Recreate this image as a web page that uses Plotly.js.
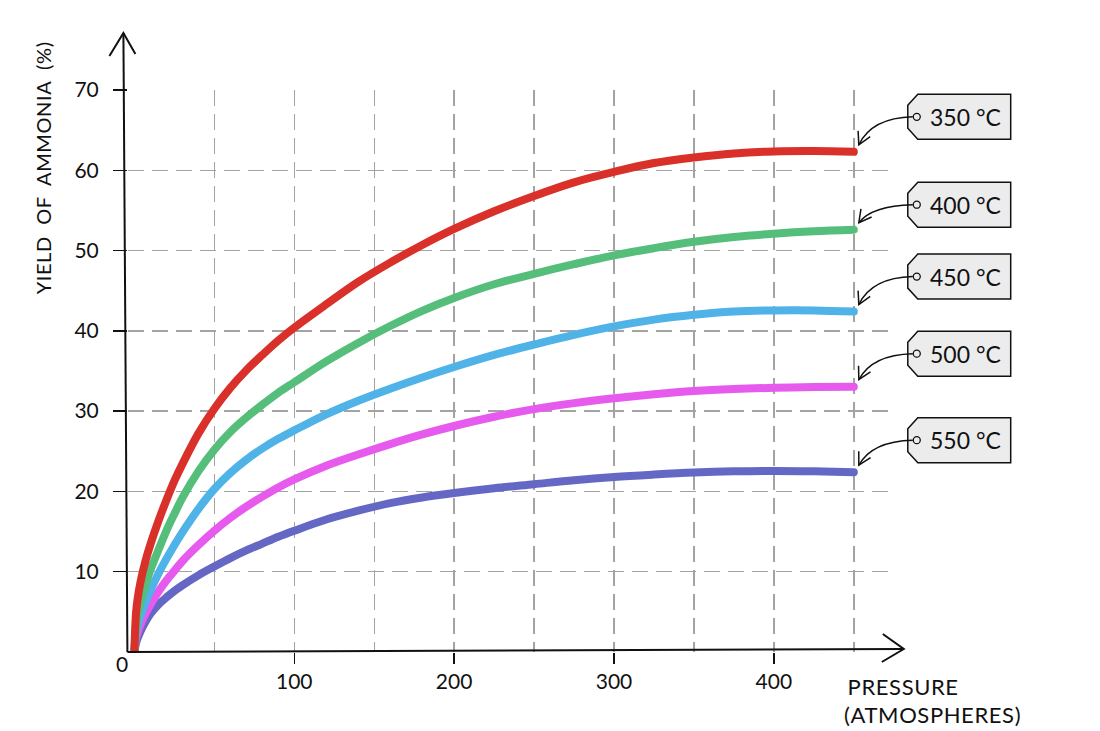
<!DOCTYPE html>
<html>
<head>
<meta charset="utf-8">
<script src="https://cdn.plot.ly/plotly-3.0.1.min.js"></script>
<style>
  html, body { margin: 0; padding: 0; background: #fff; }
  #chart { width: 1100px; height: 731px; }
  path.js-line { stroke-linecap: round !important; stroke-linejoin: round !important; }
  g.annotation[data-index="5"] text, g.annotation[data-index="6"] text, g.annotation[data-index="7"] text { letter-spacing: 0.6px; }
</style>
</head>
<body>
<div id="chart"></div>
<script>
// ---------------- DATA ----------------
const pressure = [0, 1, 2, 4, 7, 10, 15, 20, 25, 30, 40, 50, 60, 70, 80, 90, 100, 120, 140, 160, 180, 200, 225, 250, 275, 300, 325, 350, 375, 400, 425, 450];
const yield350 = [0, 4.8, 6.6, 8.9, 11.4, 13.4, 16.3, 18.9, 21.3, 23.4, 27.2, 30.3, 32.9, 35.1, 37.0, 38.8, 40.4, 43.3, 46.1, 48.5, 50.7, 52.7, 54.9, 56.8, 58.5, 59.8, 60.9, 61.6, 62.1, 62.35, 62.4, 62.3];
const yield400 = [0, 3.3, 4.6, 6.4, 8.4, 10.2, 12.7, 15.1, 17.2, 19.2, 22.5, 25.2, 27.4, 29.2, 30.8, 32.3, 33.6, 36.2, 38.5, 40.6, 42.5, 44.1, 45.8, 47.1, 48.3, 49.4, 50.3, 51.1, 51.7, 52.1, 52.4, 52.6];
const yield450 = [0, 2.3, 3.25, 4.6, 6.25, 7.65, 9.75, 11.6, 13.3, 14.9, 17.8, 20.3, 22.3, 23.95, 25.35, 26.55, 27.6, 29.6, 31.3, 32.8, 34.2, 35.5, 37.0, 38.3, 39.5, 40.55, 41.4, 42.0, 42.4, 42.55, 42.55, 42.4];
const yield500 = [0, 1.7, 2.4, 3.5, 4.8, 5.9, 7.5, 8.9, 10.1, 11.3, 13.3, 15.1, 16.7, 18.1, 19.35, 20.5, 21.5, 23.2, 24.6, 25.9, 27.1, 28.15, 29.3, 30.25, 31.0, 31.6, 32.1, 32.5, 32.75, 32.9, 33.0, 33.05];
const yield550 = [0, 1.1, 1.7, 2.65, 3.8, 4.75, 5.9, 6.8, 7.6, 8.3, 9.55, 10.65, 11.7, 12.65, 13.5, 14.35, 15.1, 16.5, 17.6, 18.55, 19.25, 19.8, 20.4, 20.9, 21.4, 21.8, 22.1, 22.35, 22.5, 22.55, 22.5, 22.4];
const temperatures = ["350 °C", "400 °C", "450 °C", "500 °C", "550 °C"];
const yTickVals = [10, 20, 30, 40, 50, 60, 70];
const xTickVals = [100, 200, 300, 400];
const xMinorVals = [50, 150, 250, 350, 450];
const yAxisTitle = "YIELD&nbsp; OF&nbsp; AMMONIA&nbsp; (%)";
const xAxisTitle1 = "PRESSURE";
const xAxisTitle2 = "(ATMOSPHERES)";

// ---------------- STYLE / LAYOUT ----------------
const seriesY = [yield350, yield400, yield450, yield500, yield550];
const colors = ["#d9302a", "#55be7a", "#4fb3e8", "#e65aee", "#6468c4"];
const FONT = "Lato, 'Open Sans', sans-serif";
const W = 1100, H = 731;
const xRange = [-4, 472], yRange = [0, 70];
const L = 127.6, T = 90, PW = 761.6, PH = 562;
const tagOffsetPx = [-35, -25, -35, -33, -32];

function px2p(px, py) { return [(px - L) / PW, (T + PH - py) / PH]; }
function dataX2px(x) { return L + (x - xRange[0]) / (xRange[1] - xRange[0]) * PW; }
function dataY2px(y) { return T + PH - (y - yRange[0]) / (yRange[1] - yRange[0]) * PH; }
function pathPx(cmds) {
  return cmds.map(c => {
    let s = c[0];
    for (let i = 1; i < c.length; i += 2) {
      const p = px2p(c[i], c[i + 1]);
      s += " " + p[0].toFixed(5) + "," + p[1].toFixed(5);
    }
    return s;
  }).join(" ");
}

const traces = [];
for (let i = seriesY.length - 1; i >= 0; i--) {
  traces.push({
    x: pressure, y: seriesY[i], type: "scatter", mode: "lines",
    line: { color: colors[i], width: 8, shape: "spline", smoothing: 1 },
    hoverinfo: "skip", showlegend: false, cliponaxis: false
  });
}

const shapes = [];
const annotations = [];
const black = "#111";

// axes with arrowheads
shapes.push({ type: "path", xref: "paper", yref: "paper", path: pathPx([["M", 127, 652], ["L", 123, 33]]), line: { color: black, width: 2 } });
shapes.push({ type: "path", xref: "paper", yref: "paper", path: pathPx([["M", 109, 56], ["L", 123, 33], ["L", 135, 54]]), line: { color: black, width: 2 } });
shapes.push({ type: "path", xref: "paper", yref: "paper", path: pathPx([["M", 127, 652], ["L", 904, 649]]), line: { color: black, width: 2 } });
shapes.push({ type: "path", xref: "paper", yref: "paper", path: pathPx([["M", 883, 634], ["L", 904, 649], ["L", 882, 662]]), line: { color: black, width: 2 } });

// tags
seriesY.forEach((ys, i) => {
  const endX = pressure[pressure.length - 1];
  const endPx = dataX2px(endX), endPy = dataY2px(ys[ys.length - 1]);
  const cy = endPy + tagOffsetPx[i];
  const x0 = 908, xn = 918, x1 = 1011, hh = 22.5, nh = 11.5;
  shapes.push({ type: "path", xref: "paper", yref: "paper",
    path: pathPx([["M", x0, cy - nh], ["L", xn, cy - hh], ["L", x1, cy - hh], ["L", x1, cy + hh], ["L", xn, cy + hh], ["L", x0, cy + nh]]) + " Z",
    fillcolor: "#ececec", line: { color: black, width: 1.5 } });
  const c0 = px2p(917 - 3.5, cy + 3.5), c1 = px2p(917 + 3.5, cy - 3.5);
  shapes.push({ type: "circle", xref: "paper", yref: "paper", x0: c0[0], y0: c0[1], x1: c1[0], y1: c1[1], fillcolor: "#ececec", line: { color: black, width: 1.3 } });
  const sx = 913, sy = cy, cx = 872, ccy = cy + 1, ax = endPx + 5, ay = endPy - 7;
  shapes.push({ type: "path", xref: "paper", yref: "paper", path: pathPx([["M", sx, sy], ["Q", cx, ccy, ax, ay]]), line: { color: black, width: 1.5 } });
  let dx = ax - cx, dy = ay - ccy; const len = Math.hypot(dx, dy); dx /= len; dy /= len;
  const al = 14, ang = 0.5;
  const r1x = ax - al * (dx * Math.cos(ang) - dy * Math.sin(ang)), r1y = ay - al * (dx * Math.sin(ang) + dy * Math.cos(ang));
  const r2x = ax - al * (dx * Math.cos(-ang) - dy * Math.sin(-ang)), r2y = ay - al * (dx * Math.sin(-ang) + dy * Math.cos(-ang));
  shapes.push({ type: "path", xref: "paper", yref: "paper", path: pathPx([["M", r1x, r1y], ["L", ax, ay], ["L", r2x, r2y]]), line: { color: black, width: 1.5 } });
  const tp = px2p(966, cy);
  annotations.push({ xref: "paper", yref: "paper", x: tp[0], y: tp[1], text: temperatures[i], showarrow: false, xanchor: "center", yanchor: "middle", font: { family: FONT, size: 23, color: black } });
});

// titles
let p = px2p(43, 168);
annotations.push({ xref: "paper", yref: "paper", x: p[0], y: p[1], text: yAxisTitle, textangle: -90, showarrow: false, xanchor: "center", yanchor: "middle", font: { family: FONT, size: 20, color: black } });
p = px2p(848, 686);
annotations.push({ xref: "paper", yref: "paper", x: p[0], y: p[1], text: xAxisTitle1, showarrow: false, xanchor: "left", yanchor: "middle", font: { family: FONT, size: 22, color: black } });
p = px2p(846, 714);
annotations.push({ xref: "paper", yref: "paper", x: p[0], y: p[1], text: xAxisTitle2, showarrow: false, xanchor: "left", yanchor: "middle", font: { family: FONT, size: 22, color: black } });
p = px2p(122, 663);
annotations.push({ xref: "paper", yref: "paper", x: p[0], y: p[1], text: "0", showarrow: false, xanchor: "center", yanchor: "middle", font: { family: FONT, size: 21, color: black } });

const gridStyle = { gridcolor: "#a3a3a3", gridwidth: 1.4, griddash: "16px,8px" };

const layout = {
  width: W, height: H,
  margin: { l: L, r: W - L - PW, t: T, b: H - T - PH, pad: 0 },
  paper_bgcolor: "#fff", plot_bgcolor: "#fff",
  showlegend: false,
  xaxis: Object.assign({
    range: xRange, tickmode: "array", tickvals: xTickVals, ticks: "outside", ticklen: 11, tickwidth: 1.5, tickcolor: black,
    showgrid: true, zeroline: false, showline: false,
    tickfont: { family: FONT, size: 21, color: black },
    minor: Object.assign({ tickmode: "array", tickvals: xMinorVals, showgrid: true, ticks: "" }, gridStyle),
    fixedrange: true
  }, gridStyle),
  yaxis: Object.assign({
    range: yRange, tickmode: "array", tickvals: yTickVals, ticks: "outside", ticklen: 14, tickwidth: 1.5, tickcolor: black,
    ticklabelstandoff: 10,
    showgrid: true, zeroline: false, showline: false,
    tickfont: { family: FONT, size: 21, color: black },
    fixedrange: true
  }, gridStyle),
  shapes: shapes,
  annotations: annotations
};

Plotly.newPlot("chart", traces, layout, { staticPlot: true, displayModeBar: false });
</script>
</body>
</html>
